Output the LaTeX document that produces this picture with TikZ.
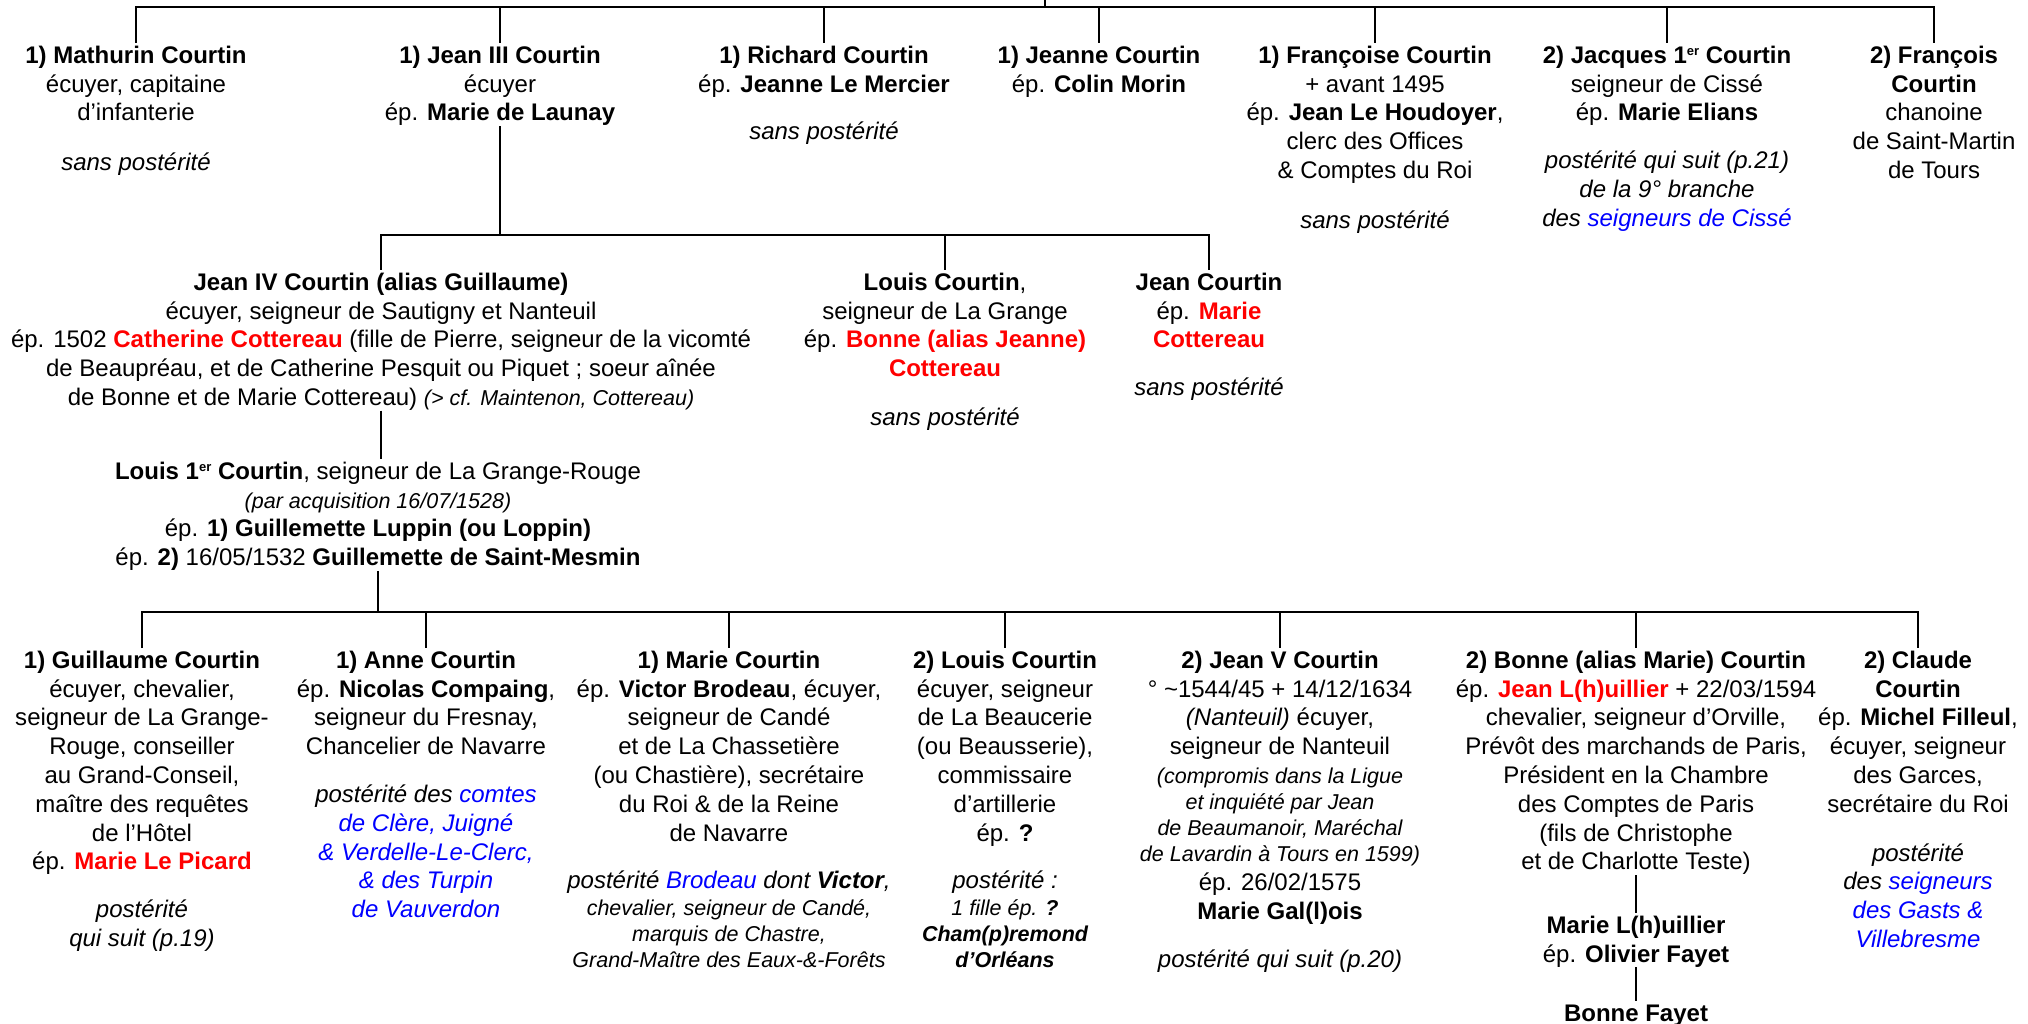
\documentclass[tikz,border=0pt]{standalone}
\usepackage{fontspec}
\setmainfont{Liberation Sans}
\definecolor{cred}{RGB}{255,0,0}
\definecolor{cblue}{RGB}{0,0,255}
\newcommand\mainsz{\fontsize{24}{28.8}\selectfont}
\newcommand\smsz{\fontsize{21.5}{26}\selectfont}
\newcommand\redb[1]{\textcolor{cred}{\textbf{#1}}}
\newcommand\blu[1]{\textcolor{cblue}{#1}}
\newcommand\supx[1]{\raisebox{7.5pt}{\fontsize{13}{13}\selectfont #1}}
\begin{document}
\begin{tikzpicture}[x=1pt,y=-1pt,
  pers/.style={align=center, inner sep=0pt, anchor=north, font=\mainsz},
  bar/.style={line width=2.6pt, line join=miter},
  link/.style={line width=1.8pt}]
\useasboundingbox (0,0) rectangle (2028,1024);
\coordinate (top) at (1045,0);
\coordinate (b0) at (1045,7);
\coordinate (b1) at (0,235);
\coordinate (b2) at (0,612);

% generation 1
\node[pers] (mathurin) at (136,43) {\strut\textbf{1) Mathurin Courtin}\\écuyer, capitaine\\d’infanterie\\[21pt]\textit{sans postérité}};
\node[pers] (jean3) at (500,43) {\strut\textbf{1) Jean III Courtin}\\écuyer\\ép. \textbf{Marie de Launay}};
\node[pers] (richard) at (824,43) {\strut\textbf{1) Richard Courtin}\\ép. \textbf{Jeanne Le Mercier}\\[19pt]\textit{sans postérité}};
\node[pers] (jeanne) at (1099,43) {\strut\textbf{1) Jeanne Courtin}\\ép. \textbf{Colin Morin}};
\node[pers] (francoise) at (1375,43) {\strut\textbf{1) Françoise Courtin}\\+ avant 1495\\ép. \textbf{Jean Le Houdoyer},\\clerc des Offices\\\& Comptes du Roi\\[21pt]\textit{sans postérité}};
\node[pers] (jacques) at (1667,43) {\strut\textbf{2) Jacques 1\supx{er} Courtin}\\seigneur de Cissé\\ép. \textbf{Marie Elians}\\[19pt]\textit{postérité qui suit (p.21)}\\\textit{de la 9° branche}\\\textit{des \blu{seigneurs de Cissé}}};
\node[pers] (francois) at (1934,43) {\strut\textbf{2) François}\\\textbf{Courtin}\\chanoine\\de Saint-Martin\\de Tours};

% generation 2
\node[pers] (jean4) at (381,270) {\strut\textbf{Jean IV Courtin (alias Guillaume)}\\écuyer, seigneur de Sautigny et Nanteuil\\ép. 1502 \redb{Catherine Cottereau} (fille de Pierre, seigneur de la vicomté\\de Beaupréau, et de Catherine Pesquit ou Piquet ; soeur aînée\\de Bonne et de Marie Cottereau) {\smsz\itshape (> cf. Maintenon, Cottereau)}};
\node[pers] (louisc) at (945,270) {\strut\textbf{Louis Courtin},\\seigneur de La Grange\\ép. \redb{Bonne (alias Jeanne)}\\\redb{Cottereau}\\[20pt]\textit{sans postérité}};
\node[pers] (jeanc) at (1209,270) {\strut\textbf{Jean Courtin}\\ép. \redb{Marie}\\\redb{Cottereau}\\[19pt]\textit{sans postérité}};
\node[pers] (louis1) at (378,459) {\strut\textbf{Louis 1\supx{er} Courtin}, seigneur de La Grange-Rouge\\{\smsz\itshape (par acquisition 16/07/1528)}\\ép. \textbf{1) Guillemette Luppin (ou Loppin)}\\ép. \textbf{2)} 16/05/1532 \textbf{Guillemette de Saint-Mesmin}};

% generation 3
\node[pers] (guillaume) at (142,648) {\strut\textbf{1) Guillaume Courtin}\\écuyer, chevalier,\\seigneur de La Grange-\\Rouge, conseiller\\au Grand-Conseil,\\maître des requêtes\\de l’Hôtel\\ép. \redb{Marie Le Picard}\\[19pt]\textit{postérité}\\\textit{qui suit (p.19)}};
\node[pers] (anne) at (426,648) {\strut\textbf{1) Anne Courtin}\\ép. \textbf{Nicolas Compaing},\\seigneur du Fresnay,\\Chancelier de Navarre\\[19pt]\textit{postérité des \blu{comtes}}\\\textit{\blu{de Clère, Juigné}}\\\textit{\blu{\& Verdelle-Le-Clerc,}}\\\textit{\blu{\& des Turpin}}\\\textit{\blu{de Vauverdon}}};
\node[pers] (marie) at (729,648) {\strut\textbf{1) Marie Courtin}\\ép. \textbf{Victor Brodeau}, écuyer,\\seigneur de Candé\\et de La Chassetière\\(ou Chastière), secrétaire\\du Roi \& de la Reine\\de Navarre\\[19pt]\textit{postérité \blu{Brodeau} dont \textbf{Victor},}\\[-2pt]{\smsz\itshape chevalier, seigneur de Candé,}\\[-2.8pt]{\smsz\itshape marquis de Chastre,}\\[-2.8pt]{\smsz\itshape Grand-Maître des Eaux-\&-Forêts}};
\node[pers] (louis2) at (1005,648) {\strut\textbf{2) Louis Courtin}\\écuyer, seigneur\\de La Beaucerie\\(ou Beausserie),\\commissaire\\d’artillerie\\ép. \textbf{?}\\[19pt]\textit{postérité :}\\[-2pt]{\smsz\itshape 1 fille ép. \textbf{?}}\\[-2.8pt]{\smsz\bfseries\itshape Cham(p)remond}\\[-2.8pt]{\smsz\bfseries\itshape d’Orléans}};
\node[pers] (jean5) at (1280,648) {\strut\textbf{2) Jean V Courtin}\\° \textasciitilde1544/45 + 14/12/1634\\\textit{(Nanteuil)} écuyer,\\seigneur de Nanteuil\\{\smsz\itshape (compromis dans la Ligue}\\[-2.8pt]{\smsz\itshape et inquiété par Jean}\\[-2.8pt]{\smsz\itshape de Beaumanoir, Maréchal}\\[-2.8pt]{\smsz\itshape de Lavardin à Tours en 1599)}\\ép. 26/02/1575\\\textbf{Marie Gal(l)ois}\\[20pt]\textit{postérité qui suit (p.20)}};
\node[pers] (bonne) at (1636,648) {\strut\textbf{2) Bonne (alias Marie) Courtin}\\ép. \redb{Jean L(h)uillier} + 22/03/1594\\chevalier, seigneur d’Orville,\\Prévôt des marchands de Paris,\\Président en la Chambre\\des Comptes de Paris\\(fils de Christophe\\et de Charlotte Teste)};
\node[pers] (claude) at (1918,648) {\strut\textbf{2) Claude}\\\textbf{Courtin}\\ép. \textbf{Michel Filleul},\\écuyer, seigneur\\des Garces,\\secrétaire du Roi\\[20pt]\textit{postérité}\\\textit{des \blu{seigneurs}}\\\textit{\blu{des Gasts \&}}\\\textit{\blu{Villebresme}}};
\node[pers] (mariel) at (1636,913) {\strut\textbf{Marie L(h)uillier}\\ép. \textbf{Olivier Fayet}};
\node[pers] (bonnef) at (1636,1001) {\strut\textbf{Bonne Fayet}};

% connectors
\draw[bar] (top) -- (b0);
\draw[bar] (mathurin.north) -- (mathurin.north |- b0) -- (francois.north |- b0) -- (francois.north);
\foreach \n in {jean3,richard,jeanne,francoise,jacques}
  \draw[bar] (\n.north |- b0) -- (\n.north);
\draw[bar] (jean3.south) -- (jean3.south |- b1);
\draw[bar] (jean4.north) -- (jean4.north |- b1) -- (jeanc.north |- b1) -- (jeanc.north);
\draw[bar] (louisc.north |- b1) -- (louisc.north);
\draw[link] (jean4.south) -- (jean4.south |- louis1.north);
\draw[bar] (louis1.south) -- (louis1.south |- b2);
\draw[bar] (guillaume.north) -- (guillaume.north |- b2) -- (claude.north |- b2) -- (claude.north);
\foreach \n in {anne,marie,louis2,jean5,bonne}
  \draw[bar] (\n.north |- b2) -- (\n.north);
\draw[link] (bonne.south) -- (mariel.north);
\draw[link] (mariel.south) -- (bonnef.north);
\end{tikzpicture}
\end{document}
